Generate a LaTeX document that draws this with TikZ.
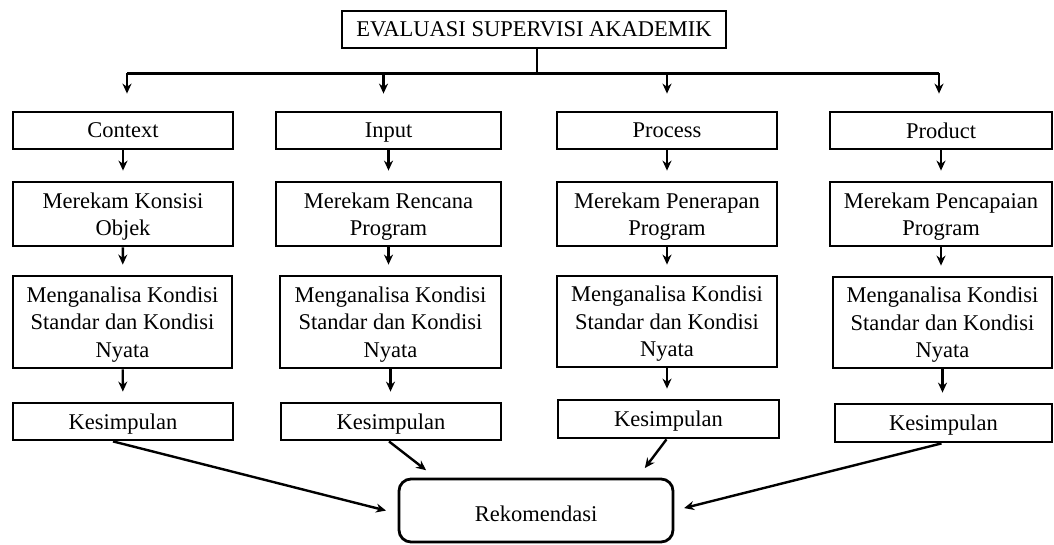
\documentclass[tikz,border=0pt]{standalone}
\usepackage{fontspec}
\setmainfont{Liberation Serif}
\usetikzlibrary{arrows.meta,calc}

\begin{document}
\begin{tikzpicture}[x=1pt,y=-1pt,>={Stealth[length=10pt,width=9pt]},
  box/.style={draw,line width=2.8pt,inner sep=0pt,align=center,text depth=0pt,font=\fontsize{22.5}{27.5}\selectfont},
  link/.style={->,line width=2.4pt},
  bus/.style={line width=2.6pt}]
\useasboundingbox (0,0) rectangle (1054,544);
\node[box,minimum width=384,minimum height=37] (eval) at (534,29.5) {EVALUASI SUPERVISI AKADEMIK};
\node[box,minimum width=220,minimum height=37] (ctx1) at (123,130.5) {Context};
\node[box,minimum width=220,minimum height=64] (ctx2) at (123,214) {Merekam Konsisi\\Objek};
\node[box,minimum width=219,minimum height=92] (ctx3) at (122.5,322) {Menganalisa Kondisi\\Standar dan Kondisi\\Nyata};
\node[box,minimum width=220,minimum height=37] (ctx4) at (123,421.5) {Kesimpulan};
\node[box,minimum width=225,minimum height=37] (inp1) at (388.5,130.5) {Input};
\node[box,minimum width=225,minimum height=64] (inp2) at (388.5,214) {Merekam Rencana\\Program};
\node[box,minimum width=221,minimum height=92] (inp3) at (390.5,322) {Menganalisa Kondisi\\Standar dan Kondisi\\Nyata};
\node[box,minimum width=220,minimum height=37] (inp4) at (391,421.5) {Kesimpulan};
\node[box,minimum width=220,minimum height=37] (pro1) at (667,130.5) {Process};
\node[box,minimum width=220,minimum height=64] (pro2) at (667,214) {Merekam Penerapan\\Program};
\node[box,minimum width=220,minimum height=91] (pro3) at (667,321.5) {Menganalisa Kondisi\\Standar dan Kondisi\\Nyata};
\node[box,minimum width=221,minimum height=38] (pro4) at (668.5,419) {Kesimpulan};
\node[box,minimum width=222,minimum height=37] (prd1) at (941,130.5) {Product};
\node[box,minimum width=222,minimum height=64] (prd2) at (941,214) {Merekam Pencapaian\\Program};
\node[box,minimum width=219,minimum height=91] (prd3) at (942.5,322.5) {Menganalisa Kondisi\\Standar dan Kondisi\\Nyata};
\node[box,minimum width=217,minimum height=38] (prd4) at (943.5,423) {Kesimpulan};
\node[box,rounded corners=12pt,minimum width=274,minimum height=63,text height=21pt] (rek) at (536,510.5) {Rekomendasi};
\coordinate (rekA) at ([xshift=38pt]rek.north west);
\coordinate (rekB) at ([xshift=240pt]rek.north west);
\draw[bus] ([xshift=3pt]eval.south) -- ++(0,24) coordinate (fork);
\draw[bus] ([xshift=4pt]ctx1.north |- fork) -- ([xshift=-2pt]prd1.north |- fork);
\draw[link,shorten >=17pt] ([xshift=4pt]ctx1.north |- fork) -- ([xshift=4pt]ctx1.north);
\draw[link,shorten >=17pt] ([xshift=-5pt]inp1.north |- fork) -- ([xshift=-5pt]inp1.north);
\draw[link,shorten >=17pt] (pro1.north |- fork) -- (pro1.north);
\draw[link,shorten >=17pt] ([xshift=-2pt]prd1.north |- fork) -- ([xshift=-2pt]prd1.north);
\draw[link,shorten >=10pt] (ctx1) -- (ctx2);
\draw[link,shorten >=10pt] (ctx2) -- (ctx3);
\draw[link,shorten >=10pt] (ctx3) -- (ctx4);
\draw[link,shorten >=10pt] (inp1) -- (inp2);
\draw[link,shorten >=10pt] (inp2) -- (inp2 |- inp3.north);
\draw[link,shorten >=10pt] (inp3) -- (inp3 |- inp4.north);
\draw[link,shorten >=10pt] (pro1) -- (pro2);
\draw[link,shorten >=10pt] (pro2) -- (pro3);
\draw[link,shorten >=10pt] (pro3) -- (pro3 |- pro4.north);
\draw[link,shorten >=10pt] (prd1) -- (prd2);
\draw[link,shorten >=10pt] (prd2) -- (prd2 |- prd3.north);
\draw[link,shorten >=10pt] (prd3) -- (prd3 |- prd4.north);
\draw[link,shorten >=12pt] ([xshift=-10pt]ctx4.south) -- ([yshift=-3pt]rek.west);
\draw[link,shorten >=12pt] ([xshift=-2pt]inp4.south) -- (rekA);
\draw[link,shorten >=12pt] ([xshift=-2pt]pro4.south) -- (rekB);
\draw[link,shorten >=10pt] ([xshift=-2pt]prd4.south) -- (rek.east);
\end{tikzpicture}
\end{document}
